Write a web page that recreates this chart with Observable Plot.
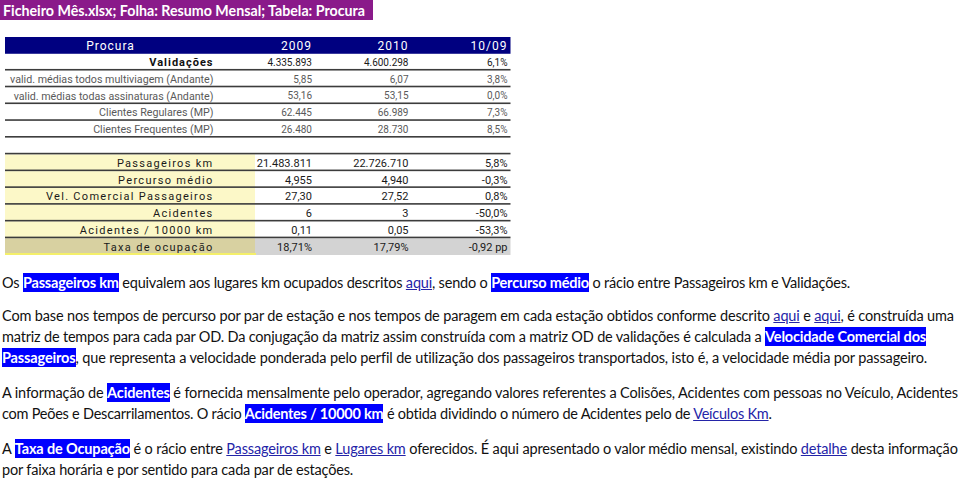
<!DOCTYPE html>
<html><head><meta charset="utf-8">
<script src="https://cdn.jsdelivr.net/npm/d3@7"></script>
<script src="https://cdn.jsdelivr.net/npm/@observablehq/plot@0.6"></script>
<style>
html,body{margin:0;padding:0;background:#fff;}
#page{position:relative;width:960px;height:479px;overflow:hidden;background:#fff;}
#title{position:absolute;left:0;top:0;height:20px;width:373px;background:#8a1a8a;color:#fff;font:bold 15px Lato, sans-serif;line-height:20px;white-space:nowrap;padding-left:3px;box-sizing:border-box;}
#title span{display:inline-block;transform-origin:0 50%;}
#table{position:absolute;left:0;top:21px;}
.ln{position:absolute;left:2px;white-space:nowrap;font:14.5px Lato, sans-serif;color:#111;line-height:20px;}
.h{background:#0000ff;color:#fff;font-weight:bold;padding:1px 0;}
.a{color:#2424a8;text-decoration:underline;}
</style></head><body>
<div id="page"><div id="title"></div><div id="table"></div><div id="text"></div></div>
<script>
// ---------- data ----------
const titleText = "Ficheiro Mês.xlsx; Folha: Resumo Mensal; Tabela: Procura";
const headers = ["Procura", "2009", "2010", "10/09"];
const demandLabels = ["Validações", "valid. médias todos multiviagem (Andante)", "valid. médias todas assinaturas (Andante)", "Clientes Regulares (MP)", "Clientes Frequentes (MP)"];
const demand2009 = [4335893, 5.85, 53.16, 62445, 26480];
const demand2010 = [4600298, 6.07, 53.15, 66989, 28730];
const demandVar = [0.061, 0.038, 0.000, 0.073, 0.085];
const demandFormats = [",d", ".2f", ".2f", ",d", ",d"];
const supplyLabels = ["Passageiros km", "Percurso médio", "Vel. Comercial Passageiros", "Acidentes", "Acidentes / 10000 km", "Taxa de ocupação"];
const supply2009 = [21483811, 4.955, 27.30, 6, 0.11, 0.1871];
const supply2010 = [22726710, 4.940, 27.52, 3, 0.05, 0.1779];
const supplyVar = [0.058, -0.003, 0.008, -0.500, -0.533, -0.92];
const supplyFormats = [",d", ".3f", ".2f", "d", ".2f", ".2%"];
const supplyVarFormats = [".1%", ".1%", ".1%", ".1%", ".1%", "pp"];

// paragraph lines: [text, kind] where kind t=plain, h=highlight, a=link
const paragraphLines = [
  [["Os ","t"],["Passageiros km","h"],[" equivalem aos lugares km ocupados descritos ","t"],["aqui","a"],[", sendo o ","t"],["Percurso médio","h"],[" o rácio entre Passageiros km e Validações.","t"]],
  [["Com base nos tempos de percurso por par de estação e nos tempos de paragem em cada estação obtidos conforme descrito ","t"],["aqui","a"],[" e ","t"],["aqui","a"],[", é construída uma","t"]],
  [["matriz de tempos para cada par OD. Da conjugação da matriz assim construída com a matriz OD de validações é calculada a ","t"],["Velocidade Comercial dos","h"]],
  [["Passageiros","h"],[", que representa a velocidade ponderada pelo perfil de utilização dos passageiros transportados, isto é, a velocidade média por passageiro.","t"]],
  [["A informação de ","t"],["Acidentes","h"],[" é fornecida mensalmente pelo operador, agregando valores referentes a Colisões, Acidentes com pessoas no Veículo, Acidentes","t"]],
  [["com Peões e Descarrilamentos. O rácio ","t"],["Acidentes / 10000 km","h"],[" é obtida dividindo o número de Acidentes pelo de ","t"],["Veículos Km","a"],[".","t"]],
  [["A ","t"],["Taxa de Ocupação","h"],[" é o rácio entre ","t"],["Passageiros km","a"],[" e ","t"],["Lugares km","a"],[" oferecidos. É aqui apresentado o valor médio mensal, existindo ","t"],["detalhe","a"],[" desta informação","t"]],
  [["por faixa horária e por sentido para cada par de estações.","t"]]
];

// ---------- layout ----------
const lineTops = [273, 306, 327, 348, 383, 404, 439, 460];
const lineRight = [850, 954, 926, 927, 958, 772, 958, null];
const colX = {"Procura": 110, "2009": 311.5, "2010": 408, "10/09": 507};
const labelRight = 213, tableLeft = 5, tableRight = 510.5, yellowRight = 255;
const gapKey = " ";
const rowKeys = [headers[0], ...demandLabels, gapKey, ...supplyLabels];
const yRange = [16, 234];
const bw = (yRange[1] - yRange[0]) / rowKeys.length;

const loc = d3.formatLocale({decimal: ",", thousands: ".", grouping: [3], currency: ["", "€"], minus: "-"});
const fmt = (spec, v) => spec === "pp" ? loc.format(".2f")(v) + " pp" : loc.format(spec)(v);

// cells
const headerCells = headers.map(h => ({row: headers[0], col: h, text: h}));
const demandCells = [];
demandLabels.forEach((l, i) => {
  demandCells.push({row: l, col: "2009", text: fmt(demandFormats[i], demand2009[i]), strong: i === 0});
  demandCells.push({row: l, col: "2010", text: fmt(demandFormats[i], demand2010[i]), strong: i === 0});
  demandCells.push({row: l, col: "10/09", text: fmt(".1%", demandVar[i]), strong: i === 0});
});
const supplyCells = [];
supplyLabels.forEach((l, i) => {
  supplyCells.push({row: l, col: "2009", text: fmt(supplyFormats[i], supply2009[i])});
  supplyCells.push({row: l, col: "2010", text: fmt(supplyFormats[i], supply2010[i])});
  supplyCells.push({row: l, col: "10/09", text: fmt(supplyVarFormats[i], supplyVar[i])});
});
const lastSupply = supplyLabels[supplyLabels.length - 1];
const TF = "Roboto, 'DejaVu Sans', sans-serif";

const svg = Plot.plot({
  width: 520, height: 240, margin: 0,
  x: {domain: [0, 520], range: [0, 520], axis: null},
  y: {type: "band", domain: rowKeys, range: yRange, padding: 0, round: false, axis: null},
  marks: [
    // header bar
    Plot.barX([headers[0]], {y: d => d, x1: tableLeft, x2: tableRight, fill: "#000080"}),
    // yellow label column
    Plot.barX(supplyLabels.slice(0, -1), {y: d => d, x1: tableLeft, x2: yellowRight, fill: "#fcf8c8"}),
    Plot.barX([lastSupply], {y: d => d, x1: tableLeft, x2: yellowRight, fill: "#d8d1a1"}),
    Plot.barX([lastSupply], {y: d => d, x1: yellowRight, x2: tableRight, fill: "#d3d3d3"}),
    // yellow frame
    Plot.ruleX(supplyLabels, {y: d => d, x: tableLeft + 0.5, stroke: "#f4ef6a", strokeWidth: 2}),
    Plot.ruleX(supplyLabels, {y: d => d, x: yellowRight, stroke: "#f4ef6a", strokeWidth: 2}),
    Plot.barX([lastSupply], {y: d => d, x1: tableLeft, x2: yellowRight + 1, insetTop: bw - 2, fill: "#f4ef6a"}),
    // dark row separators
    Plot.barX(demandLabels, {y: d => d, x1: tableLeft, x2: tableRight, insetTop: bw - 1.6, fill: "#3c3c3c"}),
    Plot.barX([gapKey, ...supplyLabels.slice(0, -1)], {y: d => d, x1: tableLeft, x2: tableRight, insetTop: bw - 1.6, fill: "#3c3c3c"}),
    // header text
    Plot.text(headerCells.slice(0, 1), {y: "row", x: d => colX[d.col], text: "text", textAnchor: "middle", fill: "white", fontSize: 12, fontFamily: TF, ariaDescription: "sp1"}),
    Plot.text(headerCells.slice(1), {y: "row", x: d => colX[d.col], text: "text", textAnchor: "end", fill: "white", fontSize: 12, fontFamily: TF, ariaDescription: "sp1"}),
    // demand labels
    Plot.text(demandLabels.slice(0, 1), {y: d => d, x: labelRight, text: d => d, textAnchor: "end", fill: "#111", fontSize: 11, fontWeight: "bold", fontFamily: TF, ariaDescription: "sp1"}),
    Plot.text(demandLabels.slice(1), {y: d => d, x: labelRight, text: d => d, textAnchor: "end", fill: "#5a5a5a", fontSize: 10.7, fontFamily: TF}),
    Plot.text(demandCells, {y: "row", x: d => colX[d.col], text: "text", textAnchor: "end", fill: d => d.strong ? "#1a1a1a" : "#5a5a5a", fontSize: 10, fontFamily: TF}),
    // supply labels + values
    Plot.text(supplyLabels, {y: d => d, x: labelRight, text: d => d, textAnchor: "end", fill: "#1a1a1a", fontSize: 11, fontFamily: TF, ariaDescription: "sp2"}),
    Plot.text(supplyCells, {y: "row", x: d => colX[d.col], text: "text", textAnchor: "end", fill: "#1a1a1a", fontSize: 11, fontFamily: TF})
  ]
});
d3.select(svg).selectAll('g[aria-description="sp1"]').style("letter-spacing", "1px");
d3.select(svg).selectAll('g[aria-description="sp2"]').style("letter-spacing", "1.3px");
document.getElementById("table").appendChild(svg);

// ---------- title ----------
const title = document.getElementById("title");
const tspan = document.createElement("span");
tspan.textContent = titleText;
title.appendChild(tspan);
{
  const w = tspan.getBoundingClientRect().width;
  tspan.style.transform = "scaleX(" + ((365 - 3) / w) + ")";
}

// ---------- paragraphs ----------
const textDiv = document.getElementById("text");
const lines = paragraphLines.map((segs, i) => {
  const div = document.createElement("div");
  div.className = "ln";
  div.style.top = lineTops[i] + "px";
  segs.forEach(([t, k]) => {
    const s = document.createElement("span");
    if (k !== "t") s.className = k;
    s.textContent = t;
    div.appendChild(s);
  });
  textDiv.appendChild(div);
  return div;
});
const spacings = [];
lines.forEach((div, i) => {
  if (lineRight[i] == null) return;
  const r = div.getBoundingClientRect();
  const n = div.textContent.length;
  const ls = (lineRight[i] - r.right) / n;
  spacings.push(ls);
  div.style.letterSpacing = ls + "px";
});
const avg = d3.mean(spacings);
lines.forEach((div, i) => { if (lineRight[i] == null) div.style.letterSpacing = avg + "px"; });
</script>
</body></html>
